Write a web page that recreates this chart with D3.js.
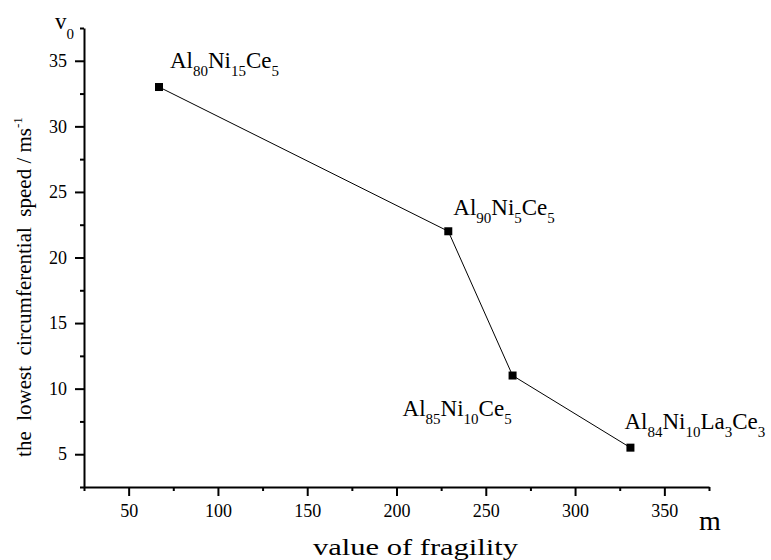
<!DOCTYPE html>
<html>
<head>
<meta charset="utf-8">
<script src="https://d3js.org/d3.v7.min.js"></script>
<style>
  body { margin: 0; background: #fff; overflow: hidden; }
  svg text { font-family: "Liberation Serif", "DejaVu Serif", serif; fill: #000; white-space: pre; }
</style>
</head>
<body>
<div id="chart"></div>
<script>
// DATA
var fragility = [67, 229, 265, 331];
var speed = [33, 22, 11, 5.5];
var alloys = [
  [["Al", "80"], ["Ni", "15"], ["Ce", "5"]],
  [["Al", "90"], ["Ni", "5"], ["Ce", "5"]],
  [["Al", "85"], ["Ni", "10"], ["Ce", "5"]],
  [["Al", "84"], ["Ni", "10"], ["La", "3"], ["Ce", "3"]]
];
var xTicks = [50, 100, 150, 200, 250, 300, 350];
var yTicks = [5, 10, 15, 20, 25, 30, 35];

// label placement relative to each point (layout only)
var labelOffset = [[11, -19], [5, -16], [-110, 40], [-6, -19]];

// SET UP
var width = 771, height = 560;
var svg = d3.select("#chart").append("svg")
    .attr("width", width)
    .attr("height", height);

var xScale = d3.scaleLinear().domain([25, 375]).range([84, 709]);
var yScale = d3.scaleLinear().domain([2.5, 37.5]).range([487, 28]);

var points = fragility.map(function(d, i) { return {x: d, y: speed[i], name: alloys[i]}; });

// AXES
var xMinor = d3.range(25, 376, 50);
var yMinor = d3.range(2.5, 37.6, 5);

var xAxis = svg.append("g")
    .attr("transform", "translate(0," + yScale(2.5) + ")");
xAxis.append("g")
    .call(d3.axisBottom(xScale).tickValues(xMinor).tickSize(4).tickFormat(""))
    .call(function(g) { g.select(".domain").remove(); g.selectAll("text").remove(); });
xAxis.append("g")
    .call(d3.axisBottom(xScale).tickValues(xTicks).tickSize(9).tickSizeOuter(0).tickPadding(8));

var yAxis = svg.append("g")
    .attr("transform", "translate(" + xScale(25) + ",0)");
yAxis.append("g")
    .call(d3.axisLeft(yScale).tickValues(yMinor).tickSize(4).tickFormat(""))
    .call(function(g) { g.select(".domain").remove(); g.selectAll("text").remove(); });
yAxis.append("g")
    .call(d3.axisLeft(yScale).tickValues(yTicks).tickSize(9).tickSizeOuter(0).tickPadding(8));

svg.selectAll("g").attr("font-family", null);
svg.selectAll(".domain, .tick line").attr("stroke", "#000").attr("stroke-width", 2);
svg.selectAll(".tick text").attr("font-size", "18px");

// LINE + MARKERS
var line = d3.line()
    .x(function(d) { return xScale(d.x); })
    .y(function(d) { return yScale(d.y); });

svg.append("path")
    .datum(points)
    .attr("d", line)
    .attr("fill", "none")
    .attr("stroke", "#000")
    .attr("stroke-width", 1);

svg.append("g")
    .selectAll("rect")
    .data(points)
    .join("rect")
    .attr("x", function(d) { return xScale(d.x) - 4; })
    .attr("y", function(d) { return yScale(d.y) - 4; })
    .attr("width", 8)
    .attr("height", 8)
    .attr("fill", "#000");

// ALLOY LABELS (with subscripts)
points.forEach(function(p, i) {
    var t = svg.append("text")
        .attr("x", xScale(p.x) + labelOffset[i][0])
        .attr("y", yScale(p.y) + labelOffset[i][1])
        .attr("font-size", "23px");
    p.name.forEach(function(part, j) {
        t.append("tspan").attr("dy", j === 0 ? 0 : -8).text(part[0]);
        t.append("tspan").attr("font-size", "15px").attr("dy", 8).text(part[1]);
    });
});

// AXIS TITLES
svg.append("text")
    .attr("x", 313)
    .attr("y", 555)
    .attr("font-size", "24px")
    .attr("textLength", 205)
    .attr("lengthAdjust", "spacingAndGlyphs")
    .text("value of fragility");

svg.append("text")
    .attr("x", 699)
    .attr("y", 530)
    .attr("font-size", "28px")
    .text("m");

var yt = svg.append("text")
    .attr("transform", "translate(31,287) rotate(-90)")
    .attr("text-anchor", "middle")
    .attr("font-size", "21px");
yt.append("tspan").text("the  lowest  circumferential  speed / ms");
yt.append("tspan").attr("font-size", "13px").attr("dy", -9).text("-1");

var v0 = svg.append("text")
    .attr("x", 55)
    .attr("y", 29)
    .attr("font-size", "23px");
v0.append("tspan").text("v");
v0.append("tspan").attr("font-size", "15px").attr("dy", 10).text("0");
</script>
</body>
</html>
